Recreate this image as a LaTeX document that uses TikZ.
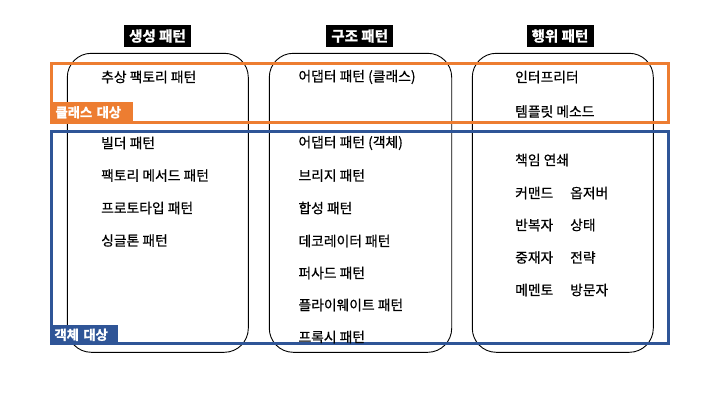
\documentclass[tikz,border=0pt]{standalone}
\usepackage{fontspec}
\setmainfont{Noto Sans CJK KR}
\newfontfamily\itemfont[FakeBold=0.6]{Noto Sans CJK KR}
\newfontfamily\hdrfont[FakeBold=1.5]{Noto Sans CJK KR Bold}
\definecolor{myorange}{HTML}{ED7D31}
\definecolor{myblue}{HTML}{2F5597}
\begin{document}
\begin{tikzpicture}[x=1pt,y=-1pt,
  colbox/.style={draw=black,line width=0.9pt,rounded corners=24pt},
  hdr/.style={fill=black,text=white,font=\hdrfont\fontsize{14.5}{14.5}\selectfont,inner sep=0pt,minimum height=22pt,minimum width=67pt,anchor=center},
  item/.style={anchor=west,inner sep=0pt,font=\itemfont\fontsize{13.8}{14}\selectfont},
  grp/.style={line width=3pt},
  tag/.style={anchor=south west,inner sep=0pt,text=white,font=\hdrfont\fontsize{13.3}{14}\selectfont,minimum height=20pt,align=left}
]
\useasboundingbox (0,0) rectangle (720,405);
% column boxes
\draw[colbox] (67.3,53.3) rectangle (248.3,352.3);
\draw[colbox] (269.3,53.3) rectangle (451.7,352.3);
\draw[colbox] (472.3,53.3) rectangle (653.3,352.3);
% headers
\node[hdr] (h1) at (157.5,36) {생성 패턴};
\node[hdr] (h2) at (359.7,36) {구조 패턴};
\node[hdr] (h3) at (560,36) {행위 패턴};
% group rectangles
\draw[grp,myorange] (51.3,63.3) rectangle (668.7,122.5);
\draw[grp,myblue] (51.3,131.7) rectangle (668.3,343.5);
% tags
\node[tag,fill=myorange,minimum width=81.5pt,text width=81.5pt] (t1) at (51.3,122.5) {\hspace*{4pt}클래스 대상};
\node[tag,fill=myblue,minimum width=66.5pt,text width=66.5pt] (t2) at (51.3,345) {\hspace*{3pt}객체 대상};
% column 1
\node[item] (a1) at (101,77) {추상 팩토리 패턴};
\node[item] (a2) at (101,143) {빌더 패턴};
\node[item] (a3) at (101,175.5) {팩토리 메서드 패턴};
\node[item] (a4) at (101,208) {프로토타입 패턴};
\node[item] (a5) at (101,240.5) {싱글톤 패턴};
% column 2
\node[item] (b1) at (298.3,77) {어댑터 패턴 (클래스)};
\node[item] (b2) at (298.3,143) {어댑터 패턴 (객체)};
\node[item] (b3) at (298.3,175.5) {브리지 패턴};
\node[item] (b4) at (298.3,208) {합성 패턴};
\node[item] (b5) at (298.3,241) {데코레이터 패턴};
\node[item] (b6) at (298.3,273) {퍼사드 패턴};
\node[item] (b7) at (298.3,305) {플라이웨이트 패턴};
\node[item] (b8) at (298.3,337) {프록시 패턴};
% column 3
\node[item] (c1) at (515,77) {인터프리터};
\node[item] (c2) at (515,111.5) {템플릿 메소드};
\node[item] (c3) at (515,160) {책임 연쇄};
\node[item] (c4) at (515,193) {커맨드};
\node[item] (c5) at (570,193) {옵저버};
\node[item] (c6) at (515,225) {반복자};
\node[item] (c7) at (570,225) {상태};
\node[item] (c8) at (515,257.5) {중재자};
\node[item] (c9) at (570,257.5) {전략};
\node[item] (c10) at (515,290) {메멘토};
\node[item] (c11) at (570,290) {방문자};
\end{tikzpicture}
\end{document}
